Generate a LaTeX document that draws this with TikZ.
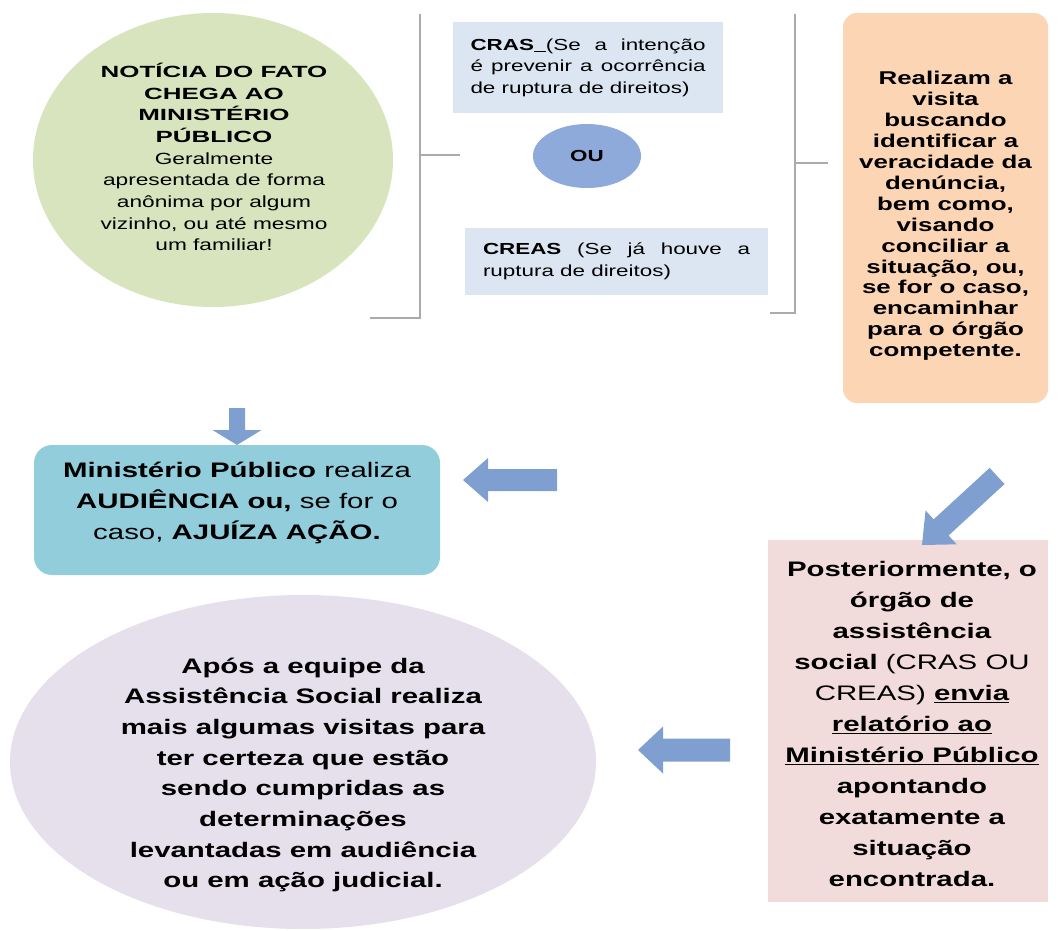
\documentclass[tikz,border=0pt]{standalone}
\usepackage{fontspec}
\setmainfont{Liberation Sans}[FakeStretch=1.4]
\newfontfamily\widefam{Liberation Sans}[FakeStretch=1.6]
\usetikzlibrary{shapes.geometric}
\definecolor{greenfill}{HTML}{D7E4BD}
\definecolor{crasfill}{HTML}{DCE6F2}
\definecolor{oufill}{HTML}{8EAADB}
\definecolor{orangefill}{HTML}{FCD5B5}
\definecolor{mpfill}{HTML}{92CDDC}
\definecolor{pinkfill}{HTML}{F2DCDB}
\definecolor{purplefill}{HTML}{E5E0EC}
\definecolor{arrowblue}{HTML}{7F9FD1}
\definecolor{bracketgray}{HTML}{ABABAB}
\tikzset{
  fsz/.style 2 args={font={\fontsize{#1}{#2}\selectfont}},
  bubble/.style={ellipse, draw=none, inner sep=0pt},
  infobox/.style={rectangle, draw=none, inner sep=0pt},
  bracketline/.style={draw=bracketgray, line width=1.2pt},
  pics/barrow/.style args={#1/#2/#3/#4}{code={
    \fill[arrowblue] (0,0) -- (-#4,#3) -- (-#4,#2) -- (-#1,#2) -- (-#1,-#2) -- (-#4,-#2) -- (-#4,-#3) -- cycle;
  }}
}
\begin{document}
\begin{tikzpicture}[x=1pt,y=-1pt]
\useasboundingbox (0,0) rectangle (1058,930);

% green circle
\node[bubble, fill=greenfill, minimum width=360, minimum height=294] (notice) at (213,160) {};
\node[fsz={16.2}{21.7}, align=center, inner sep=0pt] (noticetxt) at (214,157)
  {{\widefam\bfseries NOTÍCIA DO FATO}\\{\widefam\bfseries CHEGA AO}\\{\widefam\bfseries MINISTÉRIO}\\{\widefam\bfseries PÚBLICO}\\Geralmente\\apresentada de forma\\anônima por algum\\vizinho, ou até mesmo\\um familiar!};

% brackets
\coordinate (lbtop) at (420,14);
\coordinate (lbbot) at (420,318);
\coordinate (lbend) at (370,318);
\coordinate (lbmid) at (420,155);
\coordinate (lbtick) at (460,155);
\draw[bracketline] (lbtop) -- (lbbot) -- (lbend);
\draw[bracketline] (lbmid) -- (lbtick);
\coordinate (rbtop) at (795,14);
\coordinate (rbbot) at (795,313);
\coordinate (rbend) at (770,313);
\coordinate (rbmid) at (795,163);
\coordinate (rbtick) at (828,163);
\draw[bracketline] (rbtop) -- (rbbot) -- (rbend);
\draw[bracketline] (rbmid) -- (rbtick);

% CRAS / OU / CREAS
\node[infobox, fill=crasfill, minimum width=270, minimum height=91, text width=235, align=justify, fsz={16}{21.5}] (cras) at (588,67.5)
  {\textbf{CRAS}\underline{\hspace{12pt}}(Se a intenção\linebreak é prevenir a ocorrência\linebreak de ruptura de direitos)};
\node[bubble, fill=oufill, minimum width=108, minimum height=64, fsz={16}{20}] (ou) at (587,156) {\textbf{OU}};
\node[infobox, fill=crasfill, minimum width=303, minimum height=67, text width=267, align=justify, fsz={16}{21.5}] (creas) at (616.5,261.5)
  {\textbf{CREAS} (Se já houve a\linebreak ruptura de direitos)};

% orange box
\node[infobox, fill=orangefill, rounded corners=14pt, minimum width=205, minimum height=390] (visit) at (945.5,208) {};
\node[align=center, inner sep=0pt, font={\fontsize{18.5}{20.9}\selectfont\bfseries}] (visittxt) at (945.5,216)
  {Realizam a\\visita\\buscando\\identificar a\\veracidade da\\denúncia,\\bem como,\\visando\\conciliar a\\situação, ou,\\se for o caso,\\encaminhar\\para o órgão\\competente.};

% MP box
\node[infobox, fill=mpfill, rounded corners=18pt, minimum width=406, minimum height=130] (mp) at (237,510) {};
\node[align=center, inner sep=0pt, fsz={21}{31}] (mptxt) at (237,503)
  {\textbf{Ministério Público} realiza\\\textbf{AUDIÊNCIA ou,} se for o\\caso, \textbf{AJUÍZA AÇÃO.}};

% pink box
\node[infobox, fill=pinkfill, minimum width=280, minimum height=362] (report) at (908,721) {};
\node[align=center, inner sep=0pt, fsz={21}{31}] (reporttxt) at (912,724)
  {\textbf{Posteriormente, o}\\\textbf{órgão de}\\\textbf{assistência}\\\textbf{social} (CRAS OU\\CREAS) \textbf{\underline{envia}}\\\textbf{\underline{relatório ao}}\\\textbf{\underline{Ministério Público}}\\\textbf{apontando}\\\textbf{exatamente a}\\\textbf{situação}\\\textbf{encontrada.}};

% purple circle
\node[bubble, fill=purplefill, minimum width=586, minimum height=334] (follow) at (303,762) {};
\node[align=center, inner sep=0pt, font={\fontsize{21}{30.7}\selectfont\bfseries}] (followtxt) at (303,775)
  {Após a equipe da\\Assistência Social realiza\\mais algumas visitas para\\ter certeza que estão\\sendo cumpridas as\\determinações\\levantadas em audiência\\ou em ação judicial.};

% block arrows
\pic[rotate=-90] (downarr) at (237,445) {barrow=37/8/24.5/15};
\pic[rotate=180] (leftarrA) at (463,480) {barrow=94/11/22/25};
\pic[rotate=-137.4] (diagarr) at (922,545) {barrow=102/11/23/26};
\pic[rotate=180] (leftarrB) at (638,750) {barrow=92/11.5/23.5/25};
\end{tikzpicture}
\end{document}
